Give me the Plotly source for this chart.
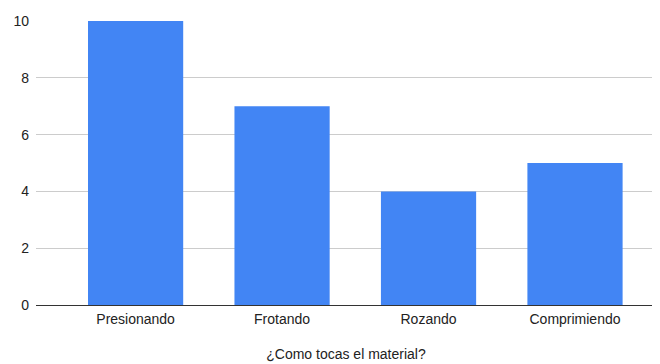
import plotly.graph_objects as go

categories = ["Presionando", "Frotando", "Rozando", "Comprimiendo"]
values = [10, 7, 4, 5]
y_ticks = [0, 2, 4, 6, 8, 10]

fig = go.Figure(go.Bar(x=categories, y=values, marker=dict(color="#4285F4", line=dict(width=0)), width=0.65))

# page body has an 8px margin, so the figure is sized/offset to compensate
fig.update_layout(
    width=652, height=356,
    margin=dict(l=28, r=4, t=13, b=59),
    paper_bgcolor="white", plot_bgcolor="white",
    font=dict(family="Liberation Sans, Arial, sans-serif", size=14, color="#222"),
    showlegend=False,
)
fig.update_xaxes(
    range=[-0.68, 3.553], showgrid=False, showline=False, zeroline=False,
    ticks="", ticklabelstandoff=4, tickfont=dict(size=14, color="#222"),
    title=dict(text="¿Como tocas el material?", font=dict(size=14, color="#222"), standoff=23),
)
fig.update_yaxes(
    range=[0, 10], tickvals=y_ticks, showgrid=True, gridcolor="#cccccc", gridwidth=1,
    zeroline=True, zerolinecolor="#333333", zerolinewidth=1, showline=False,
    ticks="", ticklabelstandoff=6, tickfont=dict(size=14, color="#222"),
)
fig.write_html("out.html")
